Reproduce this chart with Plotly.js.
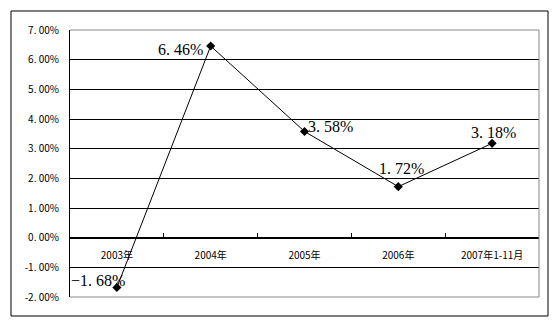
<!DOCTYPE html>
<html><head><meta charset="utf-8">
<script src="https://cdn.plot.ly/plotly-3.0.1.min.js"></script>
<style>html,body{margin:0;padding:0;background:#fff}#c{width:554px;height:322px}</style>
</head><body><div id="c"></div>
<script>
const categories = ['2003年','2004年','2005年','2006年','2007年1-11月'];
const growth = [-1.68, 6.46, 3.58, 1.72, 3.18];
const labels = ['−1. 68%','6. 46%','3. 58%','1. 72%','3. 18%'];
const yTicks = [-2,-1,0,1,2,3,4,5,6,7];
const yTickText = ['-2. 00%','-1. 00%','0. 00%','1. 00%','2. 00%','3. 00%','4. 00%','5. 00%','6. 00%','7. 00%'];

const labelPos = [
  {xanchor:'center', xshift:-19, yshift:7},
  {xanchor:'right', xshift:-6, yshift:-3},
  {xanchor:'left', xshift:1, yshift:5},
  {xanchor:'center', xshift:3, yshift:18},
  {xanchor:'center', xshift:1, yshift:11}
];

const trace = {
  x: categories, y: growth, type:'scatter', mode:'lines+markers',
  line:{color:'#000', width:1},
  marker:{symbol:'diamond', size:7, color:'#000'},
  hoverinfo:'skip'
};

const annotations = categories.map((c,i)=>Object.assign({
  x:c, y:growth[i], xref:'x', yref:'y', text:labels[i], showarrow:false,
  yanchor:'middle',
  font:{family:'Liberation Serif', size:16, color:'#000'}
}, labelPos[i]));

const gray = '#888';
const layout = {
  width:554, height:322,
  margin:{l:70, r:15, t:30, b:25, pad:0},
  paper_bgcolor:'#fff', plot_bgcolor:'#fff',
  showlegend:false,
  xaxis:{
    type:'category', range:[-0.5,4.5],
    anchor:'free', position:2/9,
    showline:true, linecolor:'#000', linewidth:1,
    ticks:'inside', tickson:'boundaries', ticklen:5, tickcolor:'#000',
    showgrid:false, zeroline:false,
    ticklabelstandoff:8,
    tickfont:{family:'Noto Sans CJK SC', size:10, color:'#000'}
  },
  yaxis:{
    range:[-2,7], tickvals:yTicks, ticktext:yTickText,
    showline:true, linecolor:'#000', linewidth:1,
    showgrid:true, gridcolor:'#000', gridwidth:1,
    zeroline:false, ticks:'', ticklabelstandoff:8,
    tickfont:{family:'Noto Sans CJK SC', size:10, color:'#000'}
  },
  annotations: annotations,
  shapes:[
    {type:'line', xref:'paper', yref:'paper', x0:0, x1:1, y0:1, y1:1, line:{color:gray, width:1}, layer:'above'},
    {type:'line', xref:'paper', yref:'paper', x0:0, x1:1, y0:0, y1:0, line:{color:gray, width:1}, layer:'above'},
    {type:'line', xref:'paper', yref:'paper', x0:1, x1:1, y0:0, y1:1, line:{color:gray, width:1}, layer:'above'},
    {type:'rect', xref:'paper', yref:'paper', x0:-0.1258, x1:1.0192, y0:-0.0712, y1:1.0712, line:{color:'#000', width:1}, layer:'below'}
  ]
};

Plotly.newPlot('c', [trace], layout, {staticPlot:true, displayModeBar:false});
</script></body></html>
